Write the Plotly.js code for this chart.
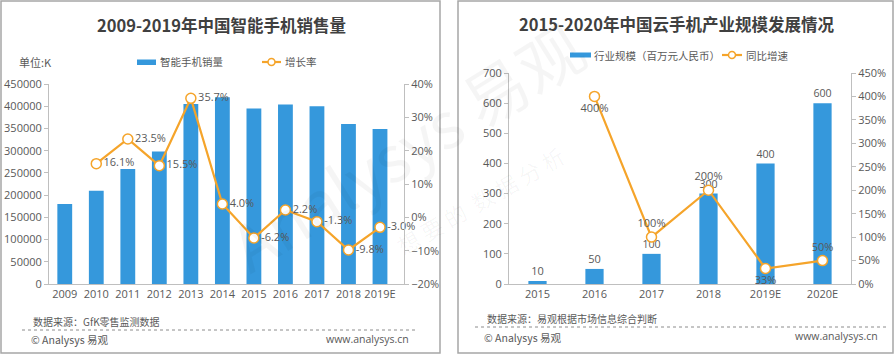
<!DOCTYPE html>
<html>
<head>
<meta charset="utf-8">
<script src="https://cdn.plot.ly/plotly-3.0.1.min.js"></script>
<style>html,body{margin:0;padding:0;background:#fff;}#chart{width:895px;height:355px;}</style>
</head>
<body>
<div id="chart"></div>
<script>
// ---- Left chart data ----
const yearsL = ['2009','2010','2011','2012','2013','2014','2015','2016','2017','2018','2019E'];
const salesL = [180000, 210000, 259000, 298000, 405000, 420000, 395000, 404000, 400000, 360000, 349000];
const growthYearsL = ['2010','2011','2012','2013','2014','2015','2016','2017','2018','2019E'];
const growthL = [0.161, 0.235, 0.155, 0.357, 0.040, -0.062, 0.022, -0.013, -0.098, -0.030];
const growthLabelsL = ['16.1%','23.5%','15.5%','35.7%','4.0%','-6.2%','2.2%','-1.3%','-9.8%','-3.0%'];

// ---- Right chart data ----
const yearsR = ['2015','2016','2017','2018','2019E','2020E'];
const scaleR = [10, 50, 100, 300, 400, 600];
const growthYearsR = ['2016','2017','2018','2019E','2020E'];
const growthR = [4.00, 1.00, 2.00, 0.33, 0.50];
const growthLabelsR = ['400%','100%','200%','33%','50%'];

const BLUE = '#3598dc';
const ORANGE = '#f5a42a';
const TXT = '#595959';
const FONT = '"Open Sans", "Noto Sans CJK SC", sans-serif';
const CJK = '"Noto Sans CJK SC", "Open Sans", sans-serif';
const W = 895, H = 355;
const px = x => x / W;
const py = y => 1 - y / H;

const traces = [
  {type:'bar', x: yearsL, y: salesL, xaxis:'x', yaxis:'y', marker:{color:BLUE}, width:0.47, hoverinfo:'x+y', showlegend:false},
  {type:'scatter', mode:'lines+markers+text', x: growthYearsL, y: growthL, xaxis:'x', yaxis:'y2',
   line:{color:ORANGE, width:2.2}, marker:{size:10, color:'#fff', line:{color:ORANGE, width:1.5}},
   text: growthLabelsL, textposition:'middle right', textfont:{size:11, color:TXT, family:FONT}, showlegend:false, cliponaxis:false},
  {type:'bar', x: yearsR, y: scaleR, xaxis:'x3', yaxis:'y3', marker:{color:BLUE}, width:0.32,
   text: scaleR.map(String), textposition:'outside', textfont:{size:11, color:TXT, family:FONT}, showlegend:false, cliponaxis:false},
  {type:'scatter', mode:'lines+markers+text', x: growthYearsR, y: growthR, xaxis:'x3', yaxis:'y4',
   line:{color:ORANGE, width:2.2}, marker:{size:10, color:'#fff', line:{color:ORANGE, width:1.5}},
   text: growthLabelsR, textposition:['bottom center','top center','top center','bottom center','top center'],
   textfont:{size:11, color:TXT, family:FONT}, showlegend:false, cliponaxis:false}
];

const axisBase = {showline:true, linecolor:'#bfbfbf', linewidth:1, showgrid:false, zeroline:false,
  tickfont:{size:11, color:TXT, family:FONT}, fixedrange:true};

function ann(x, y, text, size, opts) {
  return Object.assign({xref:'paper', yref:'paper', x:px(x), y:py(y), text:text, showarrow:false,
    xanchor:'left', yanchor:'middle', font:{size:size, color:TXT, family:CJK}}, opts || {});
}

const layout = {
  width: W, height: H,
  margin:{l:0, r:0, t:0, b:0},
  paper_bgcolor:'#fff', plot_bgcolor:'rgba(0,0,0,0)',
  font:{family:FONT, color:TXT},
  showlegend:false,
  xaxis: Object.assign({}, axisBase, {domain:[px(49), px(404)], anchor:'y', type:'category', ticks:''}),
  yaxis: Object.assign({}, axisBase, {domain:[py(284), py(84)], anchor:'x', range:[0,450000], dtick:50000, tickformat:'d', ticks:'outside', ticklen:4, tickcolor:'#bfbfbf'}),
  yaxis2: Object.assign({}, axisBase, {overlaying:'y', side:'right', anchor:'x', range:[-0.2,0.4], dtick:0.1, tickformat:'.0%', ticks:'outside', ticklen:4, tickcolor:'#bfbfbf'}),
  xaxis3: Object.assign({}, axisBase, {domain:[px(509), px(851)], anchor:'y3', type:'category', ticks:''}),
  yaxis3: Object.assign({}, axisBase, {domain:[py(284), py(73)], anchor:'x3', range:[0,700], dtick:100, ticks:'outside', ticklen:4, tickcolor:'#bfbfbf'}),
  yaxis4: Object.assign({}, axisBase, {overlaying:'y3', side:'right', anchor:'x3', range:[0,4.5], dtick:0.5, tickformat:'.0%', ticks:'outside', ticklen:4, tickcolor:'#bfbfbf'}),
  shapes: [
    {type:'rect', xref:'paper', yref:'paper', x0:px(1), x1:px(440), y0:py(353), y1:py(1), line:{color:'#a6a6a6', width:1.5}},
    {type:'rect', xref:'paper', yref:'paper', x0:px(458), x1:px(893), y0:py(353), y1:py(1), line:{color:'#a6a6a6', width:1.5}},
    {type:'line', xref:'paper', yref:'paper', x0:px(22), x1:px(417), y0:py(330), y1:py(330), line:{color:'#8c8c8c', width:1, dash:'dot'}},
    {type:'line', xref:'paper', yref:'paper', x0:px(475), x1:px(888), y0:py(327), y1:py(327), line:{color:'#8c8c8c', width:1, dash:'dot'}},
    {type:'rect', xref:'paper', yref:'paper', x0:px(137), x1:px(156), y0:py(65), y1:py(59.5), fillcolor:BLUE, line:{width:0}},
    {type:'line', xref:'paper', yref:'paper', x0:px(262), x1:px(281), y0:py(62), y1:py(62), line:{color:ORANGE, width:2.2}},
    {type:'circle', xref:'paper', yref:'paper', x0:px(268), x1:px(275), y0:py(65.5), y1:py(58.5), fillcolor:'#fff', line:{color:ORANGE, width:1.5}},
    {type:'rect', xref:'paper', yref:'paper', x0:px(570), x1:px(591), y0:py(57.5), y1:py(52.5), fillcolor:BLUE, line:{width:0}},
    {type:'line', xref:'paper', yref:'paper', x0:px(722), x1:px(742), y0:py(55), y1:py(55), line:{color:ORANGE, width:2.2}},
    {type:'circle', xref:'paper', yref:'paper', x0:px(728.5), x1:px(735.5), y0:py(58.5), y1:py(51.5), fillcolor:'#fff', line:{color:ORANGE, width:1.5}}
  ],
  annotations: [
    // faint watermark
    ann(405, 145, 'Analysys 易观', 64, {xanchor:'center', textangle:-32, font:{size:64, color:'rgba(0,0,0,0.04)', family:CJK}}),
    ann(480, 200, '想 要 的  数 据 分 析', 22, {xanchor:'center', textangle:-30, font:{size:22, color:'rgba(0,0,0,0.04)', family:CJK}}),
    // titles
    ann(221, 25, '<b>2009-2019年中国智能手机销售量</b>', 16.5, {xanchor:'center', font:{size:16.5, color:'#404040', family:CJK}}),
    ann(676, 24, '<b>2015-2020年中国云手机产业规模发展情况</b>', 16.5, {xanchor:'center', font:{size:16.5, color:'#404040', family:CJK}}),
    // unit
    ann(17, 62, '单位:K', 11),
    // legends
    ann(158, 62, '智能手机销量', 10.5),
    ann(283, 62, '增长率', 10.5),
    ann(592, 55, '行业规模（百万元人民币）', 10.5),
    ann(744, 55, '同比增速', 10.5),
    // footers
    ann(31, 321, '数据来源：GfK零售监测数据', 10, {font:{size:10, color:TXT, family:CJK}}),
    ann(29, 339, '© Analysys 易观', 10.5),
    ann(411, 339, 'www.analysys.cn', 10.5, {xanchor:'right', font:{size:10.5, color:TXT, family:FONT}}),
    ann(485, 318, '数据来源：易观根据市场信息综合判断', 10, {font:{size:10, color:TXT, family:CJK}}),
    ann(482, 337, '© Analysys 易观', 10.5),
    ann(880, 336, 'www.analysys.cn', 10.5, {xanchor:'right', font:{size:10.5, color:TXT, family:FONT}})
  ]
};

Plotly.newPlot('chart', traces, layout, {staticPlot:true, displayModeBar:false});
</script>
</body>
</html>
